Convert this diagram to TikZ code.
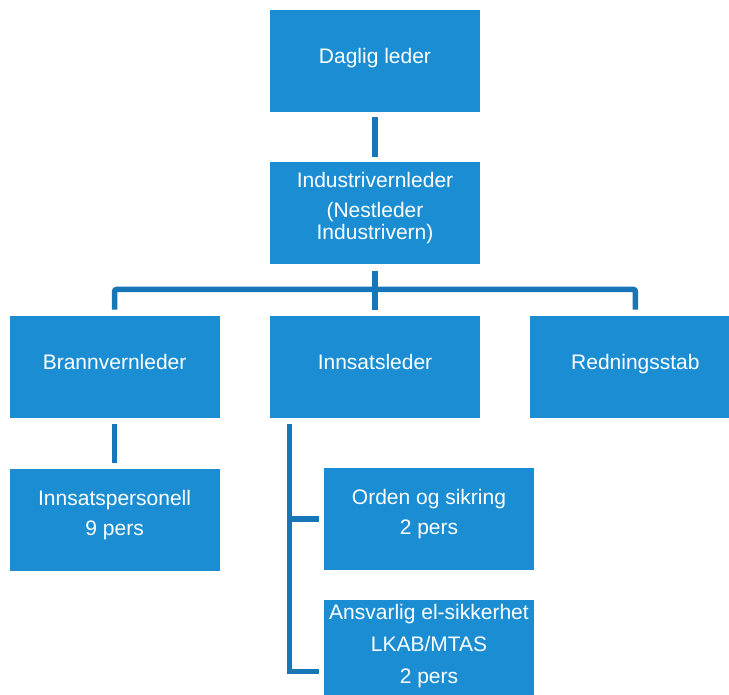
\documentclass[tikz,border=0pt]{standalone}
\usepackage{fontspec}
\setmainfont{Liberation Sans}
\usetikzlibrary{positioning}
\definecolor{boksblaa}{HTML}{1B8ED3}
\definecolor{linjeblaa}{HTML}{1577B7}
% struts for the text lines in the boxes
\newcommand{\toppstrut}{\rule{0pt}{21pt}}
\newcommand{\bunnstrut}{\rule[-15pt]{0pt}{15pt}}

\begin{document}
\begin{tikzpicture}[x=1pt,y=-1pt,
    boks/.style={fill=boksblaa,text=white,minimum width=210pt,minimum height=102pt,
        inner sep=0pt,align=center,font=\fontsize{21}{30}\selectfont,
        execute at begin node=\toppstrut,execute at end node=\bunnstrut},
    linje/.style={draw=linjeblaa,line width=5.5pt}]
    \useasboundingbox (0,0) rectangle (729,695);
    \clip (0,0) rectangle (729,695);

    %Bokser
    \node[boks] (daglig) at (375,61) {Daglig leder};
    \node[boks,below=50pt of daglig,execute at end node={\rule[-11pt]{0pt}{11pt}}] (indust)
        {Industrivernleder\\[0.7pt](Nestleder\\[-8pt]Industrivern)};
    \node[boks,below=51pt of indust] (innl) {Innsatsleder};
    \node[boks,left=50pt of innl] (brann) {Brannvernleder};
    \node[boks,right=50pt of innl] (redn) {Redningsstab};
    \node[boks,below=51pt of brann] (innsp) {Innsatspersonell\\9 pers};
    \node[boks] (orden) at (429,519) {Orden og sikring\\2 pers};
    \node[boks,below=30pt of orden] (ansv) {Ansvarlig el-sikkerhet\\[2pt]LKAB/MTAS\\[2pt]2 pers};

    %Linjer
    \coordinate (tverr) at (0,289.5);
    \coordinate (stamme) at (289.5,0);
    \coordinate (bunn) at (0,671.5);
    \draw[linje,shorten <=5pt,shorten >=5pt] (daglig) -- (indust);
    \draw[linje,shorten <=6pt,shorten >=6pt] (indust) -- (innl);
    \draw[linje,rounded corners=2pt,shorten <=6pt,shorten >=6pt] (brann.north) |- (tverr -| innl) -| (redn.north);
    \draw[linje,shorten <=6pt,shorten >=6pt] (brann) -- (innsp);
    \draw[linje,shorten <=6pt,shorten >=5pt] (innl.south -| stamme) |- (ansv.west |- bunn);
    \draw[linje,shorten >=5pt] (stamme |- orden.west) -- (orden.west);
\end{tikzpicture}
\end{document}
